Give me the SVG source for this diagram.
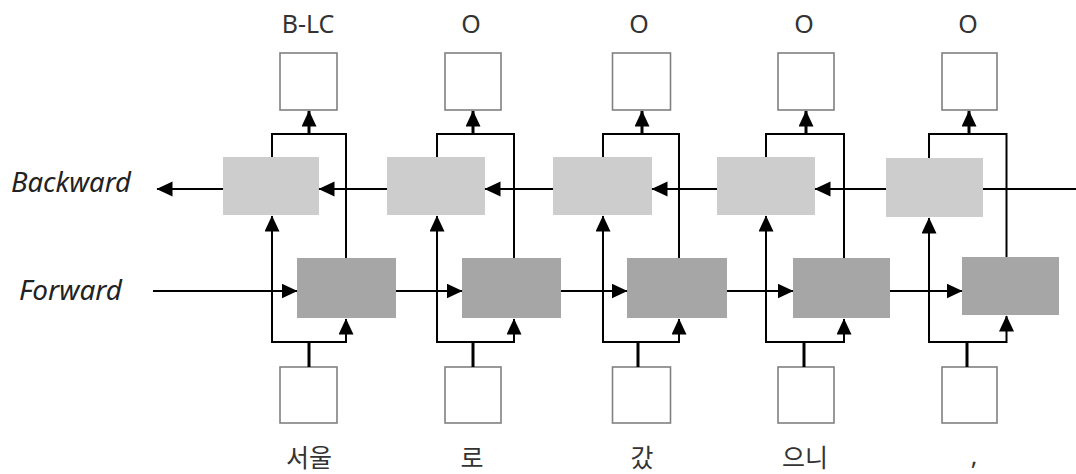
<svg xmlns="http://www.w3.org/2000/svg" width="1076" height="474" viewBox="0 0 1076 474">
  <style>
    .io { fill: #ffffff; stroke: #808080; stroke-width: 1.6; }
    .bw { fill: #cdcdcd; }
    .fw { fill: #a6a6a6; }
    .ln { fill: none; stroke: #000000; stroke-width: 2; }
    .arr { marker-end: url(#head); }
    .thick { stroke-width: 3; }
    .lbl { font-family: "Noto Sans", "Open Sans", sans-serif; font-size: 25px; fill: #333333; text-anchor: middle; }
    .dir { font-family: "Noto Sans", "Open Sans", sans-serif; font-size: 27px; font-style: italic; fill: #222222; }
    .tok { font-family: "Noto Sans", "Noto Sans CJK KR", sans-serif; font-size: 25px; fill: #333333; text-anchor: middle; }
  </style>
  <defs>
    <marker id="head" markerUnits="userSpaceOnUse" markerWidth="17" markerHeight="16" refX="15.5" refY="7.5" orient="auto">
      <path d="M0,0 L16,7.5 L0,15 z" fill="#000000"/>
    </marker>
  </defs>

  <!-- direction labels -->
  <text class="dir" x="11" y="192" textLength="120" lengthAdjust="spacingAndGlyphs">Backward</text>
  <text class="dir" x="19" y="300" textLength="103" lengthAdjust="spacingAndGlyphs">Forward</text>

  <!-- column 1 -->
  <g id="col1">
    <text class="lbl" x="308" y="33">B-LC</text>
    <rect id="out1" class="io" x="280" y="53" width="57" height="57"/>
    <rect id="bw1" class="bw" x="223" y="157" width="96" height="58"/>
    <rect id="fw1" class="fw" x="297" y="258" width="99" height="60"/>
    <rect id="in1" class="io" x="280" y="367" width="57" height="56"/>
    <text class="tok" x="309" y="467">서울</text>
  </g>

  <!-- column 2 -->
  <g id="col2">
    <text class="lbl" x="471" y="33">O</text>
    <rect id="out2" class="io" x="445" y="53" width="56" height="57"/>
    <rect id="bw2" class="bw" x="387" y="157" width="98" height="58"/>
    <rect id="fw2" class="fw" x="462" y="258" width="99" height="60"/>
    <rect id="in2" class="io" x="445" y="367" width="56" height="56"/>
    <text class="tok" x="472" y="467">로</text>
  </g>

  <!-- column 3 -->
  <g id="col3">
    <text class="lbl" x="639" y="33">O</text>
    <rect id="out3" class="io" x="612.5" y="53" width="58" height="57"/>
    <rect id="bw3" class="bw" x="553" y="157" width="99" height="58"/>
    <rect id="fw3" class="fw" x="627" y="258" width="100" height="60"/>
    <rect id="in3" class="io" x="612.5" y="367" width="58" height="56"/>
    <text class="tok" x="642" y="467">갔</text>
  </g>

  <!-- column 4 -->
  <g id="col4">
    <text class="lbl" x="804" y="33">O</text>
    <rect id="out4" class="io" x="778" y="53" width="56" height="57"/>
    <rect id="bw4" class="bw" x="717" y="157" width="98" height="58"/>
    <rect id="fw4" class="fw" x="793" y="258" width="97" height="60"/>
    <rect id="in4" class="io" x="778" y="367" width="56" height="56"/>
    <text class="tok" x="805" y="467">으니</text>
  </g>

  <!-- column 5 -->
  <g id="col5">
    <text class="lbl" x="968" y="33">O</text>
    <rect id="out5" class="io" x="942" y="53" width="55" height="57"/>
    <rect id="bw5" class="bw" x="886" y="158" width="97" height="59"/>
    <rect id="fw5" class="fw" x="962" y="257" width="97" height="58"/>
    <rect id="in5" class="io" x="942" y="367" width="55" height="56"/>
    <text class="tok" x="974" y="465">,</text>
  </g>

  <g id="connectors">
    <!-- forward chain -->
    <line class="ln arr" x1="153" y1="291" x2="297" y2="291"/>
    <line class="ln arr" x1="396" y1="291" x2="462" y2="291"/>
    <line class="ln arr" x1="561" y1="291" x2="627" y2="291"/>
    <line class="ln arr" x1="727" y1="291" x2="793" y2="291"/>
    <line class="ln arr" x1="890" y1="291" x2="962" y2="291"/>

    <!-- backward chain -->
    <line class="ln" x1="1076" y1="189" x2="983" y2="189"/>
    <line class="ln arr" x1="886" y1="189" x2="815" y2="189"/>
    <line class="ln arr" x1="717" y1="189" x2="652" y2="189"/>
    <line class="ln arr" x1="553" y1="189" x2="485" y2="189"/>
    <line class="ln arr" x1="387" y1="189" x2="319" y2="189"/>
    <line class="ln arr" x1="223" y1="189" x2="157" y2="189"/>

    <!-- column 1 wiring -->
    <path class="ln" d="M272,157 V134 H346 V258"/>
    <line class="ln thick arr" x1="309" y1="134" x2="309" y2="111"/>
    <path class="ln arr" d="M309,342 H272 V216"/>
    <path class="ln arr" d="M309,342 H346 V319"/>
    <line class="ln thick" x1="309" y1="367" x2="309" y2="342"/>

    <!-- column 2 wiring -->
    <path class="ln" d="M437,157 V134 H514 V258"/>
    <line class="ln thick arr" x1="473" y1="134" x2="473" y2="111"/>
    <path class="ln arr" d="M473,342 H437 V216"/>
    <path class="ln arr" d="M473,342 H514 V319"/>
    <line class="ln thick" x1="473" y1="367" x2="473" y2="342"/>

    <!-- column 3 wiring -->
    <path class="ln" d="M603,157 V134 H679 V258"/>
    <line class="ln thick arr" x1="642" y1="134" x2="642" y2="111"/>
    <path class="ln arr" d="M638,342 H603 V216"/>
    <path class="ln arr" d="M638,342 H679 V319"/>
    <line class="ln thick" x1="638" y1="367" x2="638" y2="342"/>

    <!-- column 4 wiring -->
    <path class="ln" d="M766,157 V134 H844 V258"/>
    <line class="ln thick arr" x1="806" y1="134" x2="806" y2="111"/>
    <path class="ln arr" d="M804,342 H766 V216"/>
    <path class="ln arr" d="M804,342 H844 V319"/>
    <line class="ln thick" x1="804" y1="367" x2="804" y2="342"/>

    <!-- column 5 wiring -->
    <path class="ln" d="M929,158 V134 H1006.5 V257"/>
    <line class="ln thick arr" x1="969" y1="134" x2="969" y2="111"/>
    <path class="ln arr" d="M967,342 H929 V218"/>
    <path class="ln arr" d="M967,342 H1006.5 V316"/>
    <line class="ln thick" x1="967" y1="367" x2="967" y2="342"/>
  </g>
</svg>
